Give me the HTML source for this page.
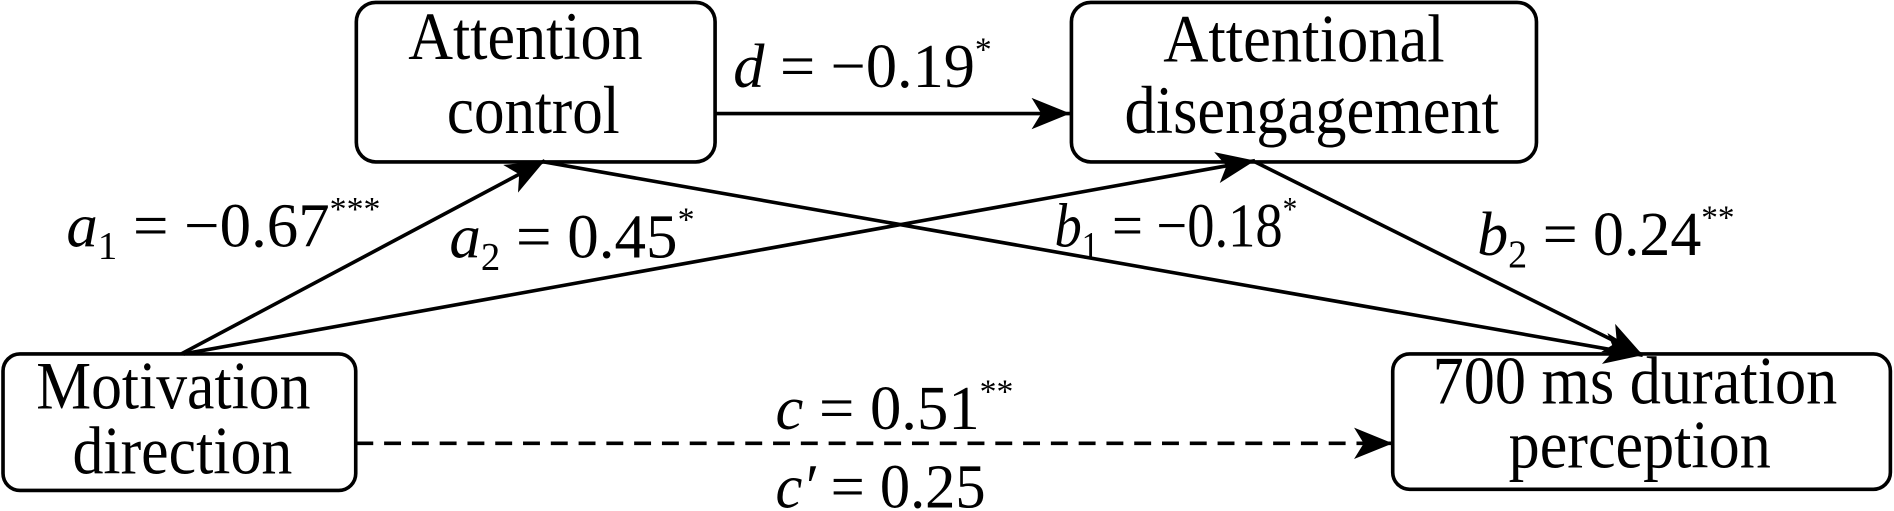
<!DOCTYPE html>
<html><head><meta charset="utf-8"><style>
html,body{margin:0;padding:0;background:#fff;}
svg{display:block;}
text{font-family:"Liberation Serif",serif;fill:#000;}
</style></head><body>
<svg width="1894" height="511" viewBox="0 0 1568 423" preserveAspectRatio="none" xmlns="http://www.w3.org/2000/svg">
<defs>
<marker id="ah" markerWidth="34" markerHeight="28" refX="32" refY="13" orient="auto" markerUnits="userSpaceOnUse">
<path d="M0,0 L32,13 L0,26 L8,13 Z" fill="#000"/>
</marker>
</defs>
<g fill="none" stroke="#000" stroke-width="3">
<rect x="295" y="2" width="297" height="132" rx="16"/>
<rect x="887" y="2" width="385" height="132" rx="16"/>
<rect x="2.5" y="293" width="292" height="113" rx="14"/>
<rect x="1153" y="293" width="412" height="112" rx="14"/>
</g>
<g stroke="#000" stroke-width="3" fill="none">
<line x1="592" y1="94" x2="886" y2="94" marker-end="url(#ah)"/>
<line x1="150" y1="293" x2="451" y2="133" marker-end="url(#ah)"/>
<line x1="152" y1="293" x2="1039" y2="133" marker-end="url(#ah)"/>
<line x1="450" y1="134" x2="1360" y2="294" marker-end="url(#ah)"/>
<line x1="1039" y1="134" x2="1360" y2="294" marker-end="url(#ah)"/>
<line x1="295" y1="367" x2="1153" y2="367" stroke-dasharray="14,9" marker-end="url(#ah)"/>
</g>
<g font-size="56" lengthAdjust="spacingAndGlyphs">
<text x="338" y="49" textLength="194" lengthAdjust="spacingAndGlyphs">Attention</text>
<text x="370" y="110" textLength="143" lengthAdjust="spacingAndGlyphs">control</text>
<text x="963" y="51" textLength="233" lengthAdjust="spacingAndGlyphs">Attentional</text>
<text x="931" y="110" textLength="310" lengthAdjust="spacingAndGlyphs">disengagement</text>
<text x="30" y="338" textLength="227" lengthAdjust="spacingAndGlyphs">Motivation</text>
<text x="60" y="392" textLength="182" lengthAdjust="spacingAndGlyphs">direction</text>
<text x="1186" y="334" textLength="335" lengthAdjust="spacingAndGlyphs">700 ms duration</text>
<text x="1249" y="387" textLength="217" lengthAdjust="spacingAndGlyphs">perception</text>
</g>
<g font-size="52">
<text x="607" y="72" textLength="214" lengthAdjust="spacingAndGlyphs"><tspan font-style="italic">d</tspan> = −0.19<tspan font-size="28" dy="-22">*</tspan></text>
<text x="55" y="204" textLength="260" lengthAdjust="spacingAndGlyphs"><tspan font-style="italic">a</tspan><tspan font-size="32" dy="10">1</tspan><tspan dy="-10"> = −0.67</tspan><tspan font-size="28" dy="-22">***</tspan></text>
<text x="372" y="213" textLength="203" lengthAdjust="spacingAndGlyphs"><tspan font-style="italic">a</tspan><tspan font-size="32" dy="10">2</tspan><tspan dy="-10"> = 0.45</tspan><tspan font-size="28" dy="-22">*</tspan></text>
<text x="873" y="204" textLength="201" lengthAdjust="spacingAndGlyphs"><tspan font-style="italic">b</tspan><tspan font-size="32" dy="10">1</tspan><tspan dy="-10"> = −0.18</tspan><tspan font-size="28" dy="-22">*</tspan></text>
<text x="1223" y="211" textLength="213" lengthAdjust="spacingAndGlyphs"><tspan font-style="italic">b</tspan><tspan font-size="32" dy="10">2</tspan><tspan dy="-10"> = 0.24</tspan><tspan font-size="28" dy="-22">**</tspan></text>
<text x="642" y="355" textLength="197" lengthAdjust="spacingAndGlyphs"><tspan font-style="italic">c</tspan> = 0.51<tspan font-size="28" dy="-22">**</tspan></text>
<text x="642" y="420" textLength="174" lengthAdjust="spacingAndGlyphs"><tspan font-style="italic">c′</tspan> = 0.25</text>
</g>
</svg>
</body></html>
